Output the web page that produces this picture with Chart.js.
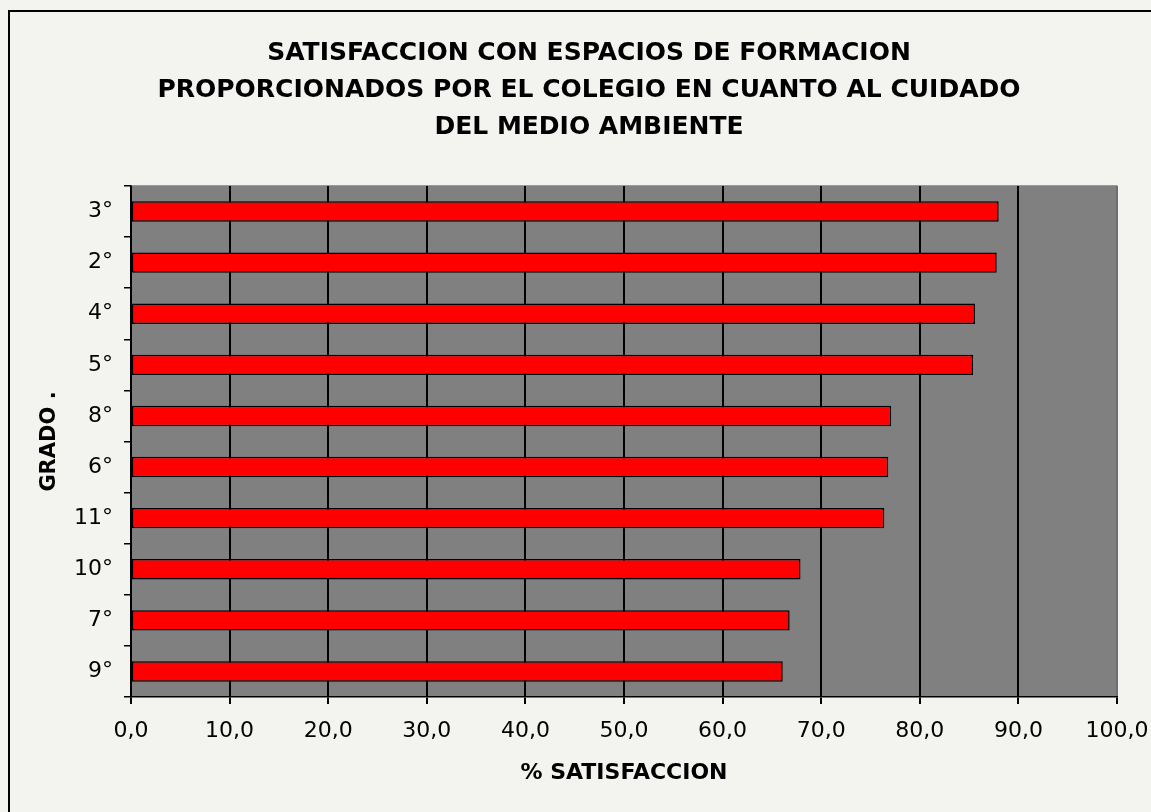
<!DOCTYPE html>
<html>
<head>
<meta charset="utf-8">
<title>Satisfaccion medio ambiente</title>
<script src="https://cdn.jsdelivr.net/npm/chart.js@4"></script>
<style>
  html, body { margin: 0; padding: 0; background: #f3f3f0; }
  canvas { display: block; }
</style>
</head>
<body>
<canvas id="grafico" width="1151" height="812"></canvas>
<script>
// datos
const grados = ["3°", "2°", "4°", "5°", "8°", "6°", "11°", "10°", "7°", "9°"];
const satisfaccion = [88.0, 87.8, 85.6, 85.4, 77.1, 76.8, 76.4, 67.9, 66.8, 66.1];
const tituloLineas = [
    "SATISFACCION CON ESPACIOS DE FORMACION",
    "PROPORCIONADOS POR EL COLEGIO EN CUANTO AL CUIDADO",
    "DEL MEDIO AMBIENTE"
];
const tituloX = "% SATISFACCION";
const tituloY = "GRADO .";

const fuente = "'DejaVu Sans', Verdana, sans-serif";

// fondo, marco exterior y area gris del grafico
const fondoPlugin = {
    id: "fondo",
    beforeDraw(chart) {
        const ctx = chart.ctx;
        const a = chart.chartArea;
        ctx.save();
        ctx.fillStyle = "#f3f3f0";
        ctx.fillRect(0, 0, chart.width, chart.height);
        ctx.strokeStyle = "#000";
        ctx.lineWidth = 2;
        ctx.strokeRect(9, 11, chart.width + 20, chart.height + 20);
        ctx.fillStyle = "#808080";
        ctx.fillRect(a.left, a.top, a.right - a.left, a.bottom - a.top);
        ctx.strokeStyle = "#9a9a9a";
        ctx.lineWidth = 1;
        ctx.strokeRect(a.left, a.top - 0.5, a.right - a.left, a.bottom - a.top);
        ctx.restore();
    }
};

const grafico = new Chart(document.getElementById("grafico"), {
    type: "bar",
    data: {
        labels: grados,
        datasets: [{
            label: tituloX,
            data: satisfaccion,
            backgroundColor: "#ff0000",
            borderColor: "#000",
            borderWidth: 1.5,
            borderSkipped: false,
            barPercentage: 0.4,
            categoryPercentage: 1
        }]
    },
    options: {
        indexAxis: "y",
        responsive: false,
        animation: false,
        // padding izquierdo para centrar el titulo como en el original
        layout: { padding: { left: 61, top: 0, right: 34, bottom: 0 } },
        plugins: {
            legend: { display: false },
            tooltip: { enabled: false },
            title: {
                display: true,
                text: tituloLineas,
                color: "#000",
                font: { family: fuente, size: 25, weight: "bold", lineHeight: "37px" },
                padding: { top: 35, bottom: 40 }
            }
        },
        scales: {
            x: {
                min: 0,
                max: 100,
                afterFit(scale) {
                    scale.height = 115;
                    scale.paddingLeft = 0;
                    scale.paddingRight = 0;
                },
                ticks: {
                    stepSize: 10,
                    color: "#000",
                    padding: 14,
                    font: { family: fuente, size: 22 },
                    callback: (v) => v.toFixed(1).replace(".", ",")
                },
                grid: {
                    color: (c) => (c.tick && c.tick.value === 100) ? "#6e6e6e" : "#000",
                    tickColor: "#000",
                    lineWidth: 2,
                    tickLength: 7
                },
                border: { color: "#000", width: 1.5 },
                title: {
                    display: true,
                    text: tituloX,
                    color: "#000",
                    font: { family: fuente, size: 22, weight: "bold" },
                    padding: { top: 4, bottom: 26 }
                }
            },
            y: {
                afterFit(scale) {
                    scale.width = 70;
                    scale.paddingTop = 0;
                    scale.paddingBottom = 0;
                },
                ticks: {
                    color: "#000",
                    padding: 11,
                    font: { family: fuente, size: 22 }
                },
                grid: {
                    offset: true,
                    drawOnChartArea: false,
                    tickColor: "#000",
                    tickLength: 7,
                    lineWidth: 1.5
                },
                border: { color: "#000", width: 1.5 },
                title: {
                    display: true,
                    text: tituloY,
                    color: "#000",
                    font: { family: fuente, size: 21, weight: "bold" },
                    padding: { top: -24, bottom: 4 }
                }
            }
        }
    },
    plugins: [fondoPlugin]
});
</script>
</body>
</html>
